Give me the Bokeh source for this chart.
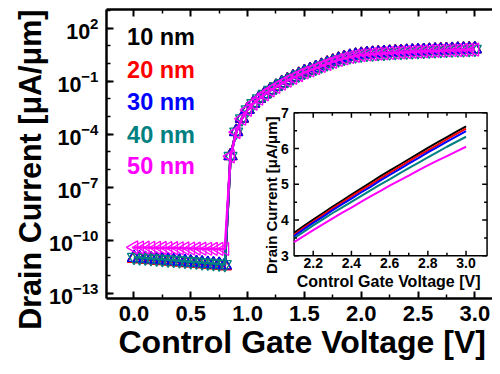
import math
from bokeh.plotting import figure
from bokeh.models import (Range1d, LinearAxis, FixedTicker, ColumnDataSource, LinearScale,
                          CustomJSTickFormatter, LogTickFormatter, Title)
from bokeh.core.properties import value
from bokeh.embed import file_html
from bokeh.resources import INLINE

FONT = "Liberation Sans"

# ---------------- data ----------------
V = [0.00, 0.05, 0.10, 0.15, 0.20, 0.25, 0.30, 0.35, 0.40, 0.45, 0.50, 0.55, 0.60, 0.65, 0.70, 0.75, 0.80,
     0.85, 0.90, 0.95, 1.00, 1.05, 1.10, 1.15, 1.20, 1.25, 1.30, 1.35, 1.40, 1.45,
     1.50, 1.55, 1.60, 1.65, 1.70, 1.75, 1.80, 1.85, 1.90, 1.95, 2.00, 2.05,
     2.10, 2.15, 2.20, 2.25, 2.30, 2.35, 2.40, 2.45, 2.50, 2.55, 2.60, 2.65, 2.70, 2.75, 2.80, 2.85, 2.90, 2.95, 3.00]

I_10nm = [1.0e-11, 9.4e-12, 8.9e-12, 8.4e-12, 7.9e-12, 7.5e-12, 7.0e-12, 6.6e-12, 6.2e-12, 5.8e-12, 5.5e-12, 5.2e-12, 4.9e-12, 4.6e-12, 4.3e-12, 4.1e-12, 3.8e-12,
          6.0e-6, 1.4e-4, 7.9e-4, 2.5e-3, 5.6e-3, 1.07e-2, 1.9e-2, 3.2e-2, 5.0e-2, 7.8e-2, 0.115, 0.166, 0.234,
          0.33, 0.43, 0.57, 0.76, 1.01, 1.32, 1.68, 2.07, 2.47, 2.85, 3.18, 3.44,
          3.64, 3.83, 4.01, 4.19, 4.37, 4.54, 4.71, 4.88, 5.05, 5.22, 5.38, 5.54, 5.70, 5.86, 6.02, 6.17, 6.32, 6.47, 6.62]
I_20nm = [9.0e-12, 8.5e-12, 8.0e-12, 7.6e-12, 7.1e-12, 6.8e-12, 6.3e-12, 5.9e-12, 5.6e-12, 5.2e-12, 5.0e-12, 4.7e-12, 4.4e-12, 4.1e-12, 3.9e-12, 3.7e-12, 3.4e-12,
          5.9e-6, 1.38e-4, 7.8e-4, 2.48e-3, 5.55e-3, 1.06e-2, 1.88e-2, 3.16e-2, 4.95e-2, 7.7e-2, 0.114, 0.164, 0.231,
          0.325, 0.425, 0.563, 0.75, 0.998, 1.30, 1.66, 2.04, 2.44, 2.81, 3.14, 3.40,
          3.59, 3.78, 3.96, 4.14, 4.32, 4.49, 4.66, 4.83, 4.99, 5.16, 5.32, 5.48, 5.64, 5.80, 5.95, 6.10, 6.26, 6.41, 6.56]
I_30nm = [1.02e-11, 9.6e-12, 9.1e-12, 8.6e-12, 8.1e-12, 7.6e-12, 7.2e-12, 6.7e-12, 6.3e-12, 5.9e-12, 5.6e-12, 5.3e-12, 5.0e-12, 4.7e-12, 4.4e-12, 4.1e-12, 3.9e-12,
          5.8e-6, 1.36e-4, 7.7e-4, 2.45e-3, 5.5e-3, 1.05e-2, 1.86e-2, 3.12e-2, 4.9e-2, 7.6e-2, 0.112, 0.162, 0.228,
          0.32, 0.42, 0.555, 0.74, 0.985, 1.29, 1.64, 2.02, 2.41, 2.78, 3.10, 3.36,
          3.55, 3.74, 3.92, 4.09, 4.27, 4.44, 4.60, 4.77, 4.93, 5.10, 5.26, 5.42, 5.58, 5.73, 5.89, 6.04, 6.19, 6.34, 6.49]
I_40nm = [1.1e-11, 1.03e-11, 9.8e-12, 9.2e-12, 8.7e-12, 8.2e-12, 7.7e-12, 7.3e-12, 6.9e-12, 6.5e-12, 6.1e-12, 5.8e-12, 5.4e-12, 5.1e-12, 4.8e-12, 4.5e-12, 4.3e-12,
          5.7e-6, 1.34e-4, 7.6e-4, 2.42e-3, 5.4e-3, 1.03e-2, 1.83e-2, 3.07e-2, 4.8e-2, 7.4e-2, 0.109, 0.158, 0.223,
          0.315, 0.41, 0.545, 0.73, 0.97, 1.27, 1.61, 1.99, 2.37, 2.74, 3.05, 3.30,
          3.49, 3.67, 3.85, 4.02, 4.19, 4.35, 4.51, 4.67, 4.83, 4.99, 5.14, 5.30, 5.45, 5.60, 5.75, 5.90, 6.05, 6.19, 6.33]
I_50nm = [3.9e-11, 3.85e-11, 3.8e-11, 3.75e-11, 3.7e-11, 3.65e-11, 3.6e-11, 3.55e-11, 3.5e-11, 3.45e-11, 3.4e-11, 3.35e-11, 3.3e-11, 3.27e-11, 3.23e-11, 3.2e-11, 3.17e-11,
          5.5e-6, 1.3e-4, 7.4e-4, 2.36e-3, 5.3e-3, 1.0e-2, 1.78e-2, 2.98e-2, 4.65e-2, 7.2e-2, 0.106, 0.153, 0.216,
          0.305, 0.40, 0.53, 0.71, 0.94, 1.23, 1.56, 1.93, 2.30, 2.65, 2.96, 3.20,
          3.38, 3.55, 3.72, 3.88, 4.04, 4.20, 4.35, 4.51, 4.66, 4.81, 4.96, 5.10, 5.24, 5.39, 5.53, 5.66, 5.79, 5.92, 6.05]

SERIES = [I_10nm, I_20nm, I_30nm, I_40nm, I_50nm]
LEGEND = ["10 nm", "20 nm", "30 nm", "40 nm", "50 nm"]
COLORS = ["#000000", "#FF0000", "#0000FF", "#008080", "#FF00FF"]
MARKERS = ["triangle", "triangle", "triangle", "inverted_triangle", "triangle"]
ANGLES = [0, 0, 0, 0, math.pi / 2]

X_TICKS = [0.0, 0.5, 1.0, 1.5, 2.0, 2.5, 3.0]
X_MINOR = [-0.25, 0.25, 0.75, 1.25, 1.75, 2.25, 2.75, 3.25]
Y_EXP = [2, -1, -4, -7, -10, -13]
Y_MINOR_EXP = list(range(-14, 4))

INSET_START = 2.1
IX_TICKS = [2.2, 2.4, 2.6, 2.8, 3.0]
IX_MINOR = [2.3, 2.5, 2.7, 2.9]
IY_TICKS = [3, 4, 5, 6, 7]
IY_MINOR = [3.5, 4.5, 5.5, 6.5]

# ---------------- layout ----------------
W, H = 492, 366
FL, FT, FB = 106, 9, 298               # frame edges in figure px (right edge = W)
RFL, RFR, RFT, RFB = 106, 500, 9, 300   # frame edges as seen in the reference image
X0, X1 = -0.2414, 3.1552
LY0, LY1 = -13.3, 3.05


def px2v(rx):
    return X0 + (rx - RFL) / (RFR - RFL) * (X1 - X0)


def py2y(ry):
    return 10 ** (LY1 - (ry - RFT) / (RFB - RFT) * (LY1 - LY0))


# inset geometry (reference px)
IXL, IXR, IYB, IYT = 2.1, 3.11, 3.0, 7.0
RIX_L, RPPV, RIY_T, RPPU = 297.5, 195.0, 113.0, 36.0
IX0 = IXL - (RIX_L - RFL) / RPPV
IX1 = IXL + (RFR - RIX_L) / RPPV
IY1 = IYT + (RIY_T - RFT) / RPPU
IY0 = IYT - (RFB - RIY_T) / RPPU


def ipx(rx):
    return IXL + (rx - RIX_L) / RPPV


def ipy(ry):
    return IYT - (ry - RIY_T) / RPPU


p = figure(width=W, height=H, output_backend="svg", toolbar_location=None,
           y_axis_type="log", x_range=Range1d(X0, X1), y_range=Range1d(10 ** LY0, 10 ** LY1),
           min_border_left=FL, min_border_right=0, min_border_top=FT, min_border_bottom=H - FB)
p.grid.visible = False
p.outline_line_color = None
p.background_fill_color = "white"
p.border_fill_color = "white"

p.extra_x_ranges = {"ix": Range1d(IX0, IX1)}
p.extra_y_ranges = {"iy": Range1d(IY0, IY1)}
p.extra_x_scales = {"ix": LinearScale()}
p.extra_y_scales = {"iy": LinearScale()}

BLANK = CustomJSTickFormatter(code="return ''")


def style_axis(ax):
    ax.axis_line_width = 2.5
    ax.axis_line_color = "black"
    ax.major_tick_in = 7
    ax.major_tick_out = 0
    ax.minor_tick_in = 4
    ax.minor_tick_out = 0
    ax.major_tick_line_width = 2
    ax.minor_tick_line_width = 1.5
    ax.major_tick_line_color = "black"
    ax.minor_tick_line_color = "black"


xa = p.xaxis[0]
style_axis(xa)
xa.ticker = FixedTicker(ticks=X_TICKS, minor_ticks=X_MINOR)
xa.major_label_overrides = {t: "%.1f" % t for t in X_TICKS}
xa.major_label_text_font = FONT
xa.major_label_text_font_style = "bold"
xa.major_label_text_font_size = "22px"
xa.major_label_text_color = "black"
xa.major_label_standoff = 7

ya = p.yaxis[0]
style_axis(ya)
ya.ticker = FixedTicker(ticks=[10.0 ** e for e in Y_EXP], minor_ticks=[10.0 ** e for e in Y_MINOR_EXP])
ya.formatter = LogTickFormatter()
ya.major_label_text_font = FONT
ya.major_label_text_font_style = "bold"
ya.major_label_text_font_size = "21.5px"
ya.major_label_text_color = "black"
ya.major_label_standoff = 8

top = LinearAxis(ticker=FixedTicker(ticks=X_TICKS, minor_ticks=X_MINOR), formatter=BLANK)
style_axis(top)
top.major_label_standoff = 0
p.add_layout(top, "above")

# axis titles as side titles
p.add_layout(Title(text="Drain Current [\u03bcA/\u03bcm]", align="right", offset=0, standoff=0,
                   text_font=FONT, text_font_style="bold", text_font_size="30.5px",
                   text_color="black"), "left")
p.add_layout(Title(text="Control Gate Voltage [V]", align="left", offset=12, standoff=0,
                   vertical_align="top", text_font=FONT, text_font_style="bold",
                   text_font_size="32px", text_color="black"), "below")

# main series
for ys, c, m, a in zip(SERIES, COLORS, MARKERS, ANGLES):
    p.line(V, ys, line_color=c, line_width=2.5)
    p.scatter(V, ys, marker=m, size=13, angle=a,
              fill_color=None, line_color=c, line_width=1.3)

# legend texts
leg_src = ColumnDataSource(dict(x=[px2v(127)] * 5, y=[py2y(py) for py in (37, 70, 102, 135, 167)],
                                t=LEGEND, c=COLORS))
p.text(x="x", y="y", text="t", text_color="c", source=leg_src, text_font=value(FONT),
       text_font_style="bold", text_font_size="23.5px", text_baseline="middle", text_align="left")

# ---------------- inset ----------------
R = dict(x_range_name="ix", y_range_name="iy")
p.quad(left=[IXL], right=[IXR], bottom=[IYB], top=[IYT], fill_color="white", line_color="black",
       line_width=1.5, **R)

for ys, c in zip(SERIES, COLORS):
    xi = [v for v in V if v >= INSET_START - 1e-9]
    yi = [y for v, y in zip(V, ys) if v >= INSET_START - 1e-9]
    p.line(xi, yi, line_color=c, line_width=2, **R)

dxM, dyM = 5 / RPPV, 5 / RPPU
dxm, dym = 3 / RPPV, 3 / RPPU
x0s, y0s, x1s, y1s = [], [], [], []
for t, l in [(t, dyM) for t in IX_TICKS] + [(t, dym) for t in IX_MINOR]:
    x0s += [t, t]; x1s += [t, t]; y0s += [IYB, IYT]; y1s += [IYB + l, IYT - l]
for t, l in [(t, dxM) for t in IY_TICKS] + [(t, dxm) for t in IY_MINOR]:
    x0s += [IXL, IXR]; x1s += [IXL + l, IXR - l]; y0s += [t, t]; y1s += [t, t]
p.segment(x0=x0s, y0=y0s, x1=x1s, y1=y1s, line_color="black", line_width=1.5, **R)

p.text(x=IX_TICKS, y=[ipy(264)] * len(IX_TICKS), text=["%.1f" % t for t in IX_TICKS],
       text_font=value(FONT), text_font_style="bold", text_font_size="14px", text_color="black",
       text_align="center", text_baseline="middle", **R)
p.text(x=[ipx(292)] * len(IY_TICKS), y=IY_TICKS, text=[str(t) for t in IY_TICKS],
       text_font=value(FONT), text_font_style="bold", text_font_size="14px", text_color="black",
       text_align="right", text_baseline="middle", **R)
p.text(x=[ipx(394)], y=[ipy(283)], text=["Control Gate Voltage [V]"],
       text_font=value(FONT), text_font_style="bold", text_font_size="16px", text_color="black",
       text_align="center", text_baseline="middle", **R)
p.text(x=[ipx(274)], y=[ipy(196)], text=["Drain Current [\u03bcA/\u03bcm]"], angle=math.pi / 2,
       text_font=value(FONT), text_font_style="bold", text_font_size="15px", text_color="black",
       text_align="center", text_baseline="middle", **R)

open("out.html", "w").write(file_html(p, INLINE))
